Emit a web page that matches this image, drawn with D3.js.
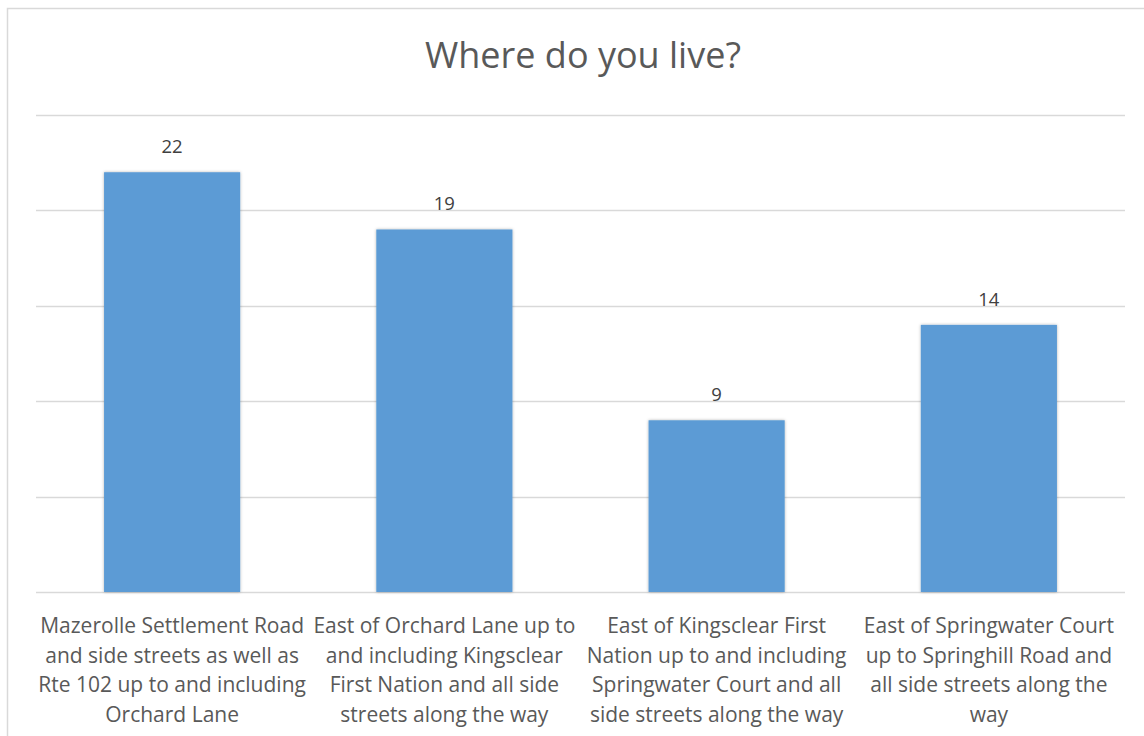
<!DOCTYPE html>
<html><head><meta charset="utf-8">
<script src="https://cdn.jsdelivr.net/npm/d3@7"></script>
<style>body{margin:0;background:#fff;}svg{display:block;}</style>
</head><body>
<script>
const categories = [
  ["Mazerolle Settlement Road", "and side streets as well as", "Rte 102 up to and including", "Orchard Lane"],
  ["East of Orchard Lane up to", "and including Kingsclear", "First Nation and all side", "streets along the way"],
  ["East of Kingsclear First", "Nation up to and including", "Springwater Court and all", "side streets along the way"],
  ["East of Springwater Court", "up to Springhill Road and", "all side streets along the", "way"]
];
const values = [22, 19, 9, 14];
const yTicks = [0, 5, 10, 15, 20, 25];
const title = "Where do you live?";

const W = 1144, H = 736;
const font = "'Open Sans', sans-serif";
const svg = d3.select("body").append("svg").attr("width", W).attr("height", H);
svg.append("rect").attr("x", 7.5).attr("y", 8.5).attr("width", W + 10).attr("height", H + 10)
  .attr("fill", "#fff").attr("stroke", "#d9d9d9").attr("stroke-width", 1.5);

const x = d3.scaleBand().domain(d3.range(values.length)).range([36, 1125]).paddingInner(0.5).paddingOuter(0.25);
const y = d3.scaleLinear().domain([0, 25]).range([592, 115]);

svg.append("text").attr("x", 583).attr("y", 68).attr("text-anchor", "middle")
  .attr("font-family", font).attr("font-size", 36).attr("fill", "#595959").text(title);

svg.append("g").selectAll("line").data(yTicks).join("line")
  .attr("x1", 36).attr("x2", 1125).attr("y1", d => Math.round(y(d)) + 0.5).attr("y2", d => Math.round(y(d)) + 0.5)
  .attr("stroke", "#d9d9d9").attr("stroke-width", 1.3);

const defs = svg.append("defs");
const f = defs.append("filter").attr("id", "sh").attr("x", "-10%").attr("y", "-10%").attr("width", "120%").attr("height", "120%");
f.append("feDropShadow").attr("dx", 0).attr("dy", 0).attr("stdDeviation", 1.5).attr("flood-color", "#000").attr("flood-opacity", 0.3);

svg.append("g").selectAll("rect").data(values).join("rect")
  .attr("x", (d, i) => x(i)).attr("width", x.bandwidth())
  .attr("y", d => y(d)).attr("height", d => y(0) - y(d))
  .attr("fill", "#5b9bd5").attr("filter", "url(#sh)");

svg.append("g").selectAll("text").data(values).join("text")
  .attr("x", (d, i) => x(i) + x.bandwidth() / 2).attr("y", d => y(d) - 19)
  .attr("text-anchor", "middle").attr("font-family", font).attr("font-size", 18.5).attr("fill", "#404040").text(d => d);

const lab = svg.append("g").selectAll("text").data(categories).join("text")
  .attr("text-anchor", "middle").attr("font-family", font).attr("font-size", 21).attr("fill", "#595959");
lab.each(function(lines, i) {
  d3.select(this).selectAll("tspan").data(lines).join("tspan")
    .attr("x", x(i) + x.bandwidth() / 2).attr("y", (d, j) => 633 + j * 29.5).text(d => d);
});
</script>
</body></html>
